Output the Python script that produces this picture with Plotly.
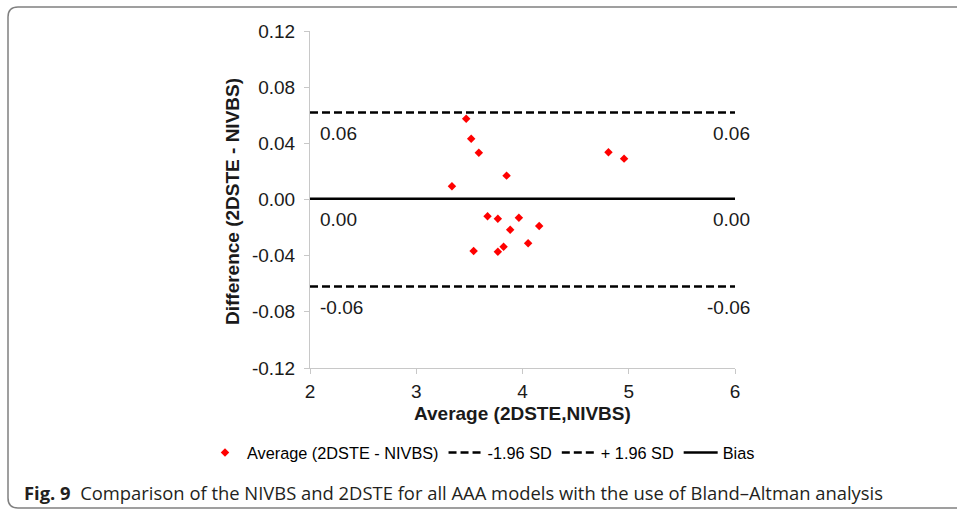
import plotly.graph_objects as go

# ---- data ----
avg_vals = [3.470, 3.517, 3.589, 3.336, 3.850, 4.809, 4.956, 3.671,
            3.768, 3.966, 3.884, 4.157, 4.053, 3.822, 3.768, 3.540]
diff_vals = [0.0575, 0.0433, 0.0333, 0.0094, 0.0170, 0.0336, 0.0291, -0.0120,
             -0.0137, -0.0130, -0.0215, -0.0189, -0.0312, -0.0336, -0.0372, -0.0367]
lower_sd = -0.062
upper_sd = 0.062
bias = 0.0005
x_range = [2, 6]
y_ticks = [-0.12, -0.08, -0.04, 0.00, 0.04, 0.08, 0.12]
y_tick_labels = ["-0.12", "-0.08", "-0.04", "0.00", "0.04", "0.08", "0.12"]
x_ticks = [2, 3, 4, 5, 6]

W, H = 957, 510
PL, PR, PT, PB = 310, 735, 31, 368


def fx(px):
    return (px - PL) / (PR - PL)


def fy(py):
    return (PB - py) / (PB - PT)


FONT = "Liberation Sans, Arial, sans-serif"
TXT = "#1a1a1a"

fig = go.Figure()
fig.add_trace(go.Scatter(
    x=avg_vals, y=diff_vals, mode="markers", name="Average (2DSTE - NIVBS)",
    marker=dict(symbol="diamond", color="#ff0000", size=6.5, line=dict(width=0)),
))
fig.add_trace(go.Scatter(
    x=x_range, y=[lower_sd, lower_sd], mode="lines", name="-1.96 SD",
    line=dict(color="#000000", width=2.5, dash="8px,4px"),
))
fig.add_trace(go.Scatter(
    x=x_range, y=[upper_sd, upper_sd], mode="lines", name="+ 1.96 SD",
    line=dict(color="#000000", width=2.5, dash="8px,4px"),
))
fig.add_trace(go.Scatter(
    x=x_range, y=[bias, bias], mode="lines", name="Bias",
    line=dict(color="#000000", width=2.5),
))

annotations = []
for val in [upper_sd, bias, lower_sd]:
    lab = f"{val:.2f}".replace("-0.00", "0.00")
    annotations.append(dict(x=x_range[0], y=val, xref="x", yref="y", text=lab,
                            showarrow=False, xanchor="left", yanchor="middle",
                            xshift=8, yshift=-21,
                            font=dict(family=FONT, size=19, color=TXT)))
    annotations.append(dict(x=x_range[1], y=val, xref="x", yref="y", text=lab,
                            showarrow=False, xanchor="right", yanchor="middle",
                            xshift=17, yshift=-21,
                            font=dict(family=FONT, size=19, color=TXT)))

# axis titles
annotations.append(dict(x=0.5, y=fy(413), xref="paper", yref="paper",
                        text="<b>Average (2DSTE,NIVBS)</b>", showarrow=False,
                        xanchor="center", yanchor="middle",
                        font=dict(family=FONT, size=19, color=TXT)))
annotations.append(dict(x=fx(232), y=fy(202), xref="paper", yref="paper",
                        text="<b>Difference (2DSTE - NIVBS)</b>", showarrow=False,
                        textangle=-90, xanchor="center", yanchor="middle",
                        font=dict(family=FONT, size=19, color=TXT)))

# caption
annotations.append(dict(
    x=fx(22), y=fy(492), xref="paper", yref="paper",
    text="<b>Fig. 9</b>  Comparison of the NIVBS and 2DSTE for all AAA models with the use of Bland\u2013Altman analysis",
    showarrow=False, xanchor="left", yanchor="middle",
    font=dict(family="Open Sans, Noto Sans, sans-serif", size=18.4, color="#231f20")))

# border with rounded left corners
r = 10
x0, x1, y0, y1 = 8, 970, 7, 508
path = (f"M {fx(x1)},{fy(y0)} L {fx(x0 + r)},{fy(y0)} "
        f"Q {fx(x0)},{fy(y0)} {fx(x0)},{fy(y0 + r)} "
        f"L {fx(x0)},{fy(y1 - r)} Q {fx(x0)},{fy(y1)} {fx(x0 + r)},{fy(y1)} "
        f"L {fx(x1)},{fy(y1)}")
shapes = [dict(type="path", xref="paper", yref="paper", path=path,
               line=dict(color="#808080", width=1.5), layer="below")]

fig.update_layout(
    width=W, height=H,
    margin=dict(l=PL, r=W - PR, t=PT, b=H - PB, autoexpand=False),
    paper_bgcolor="white", plot_bgcolor="white",
    font=dict(family=FONT, color=TXT),
    showlegend=True,
    legend=dict(orientation="h", xref="paper", yref="paper",
                x=fx(203), xanchor="left", y=fy(453), yanchor="middle",
                font=dict(family=FONT, size=16.3, color="#000000"),
                itemwidth=34, bgcolor="rgba(0,0,0,0)"),
    xaxis=dict(range=x_range, tickvals=x_ticks, showgrid=False, zeroline=False,
               showline=True, linecolor="#c8c8c8", linewidth=1,
               ticks="outside", ticklen=5, tickcolor="#c8c8c8",
               ticklabelstandoff=1,
               tickfont=dict(family=FONT, size=19, color=TXT)),
    yaxis=dict(range=[y_ticks[0], y_ticks[-1]], tickvals=y_ticks, ticktext=y_tick_labels,
               showgrid=False, zeroline=False,
               showline=True, linecolor="#c8c8c8", linewidth=1,
               ticks="outside", ticklen=5, tickcolor="#c8c8c8",
               ticklabelstandoff=5,
               tickfont=dict(family=FONT, size=19, color=TXT)),
    annotations=annotations,
    shapes=shapes,
)

fig.write_html("out.html", config={"displayModeBar": False},
               post_script="document.body.style.margin='0';document.body.style.overflow='hidden';")
